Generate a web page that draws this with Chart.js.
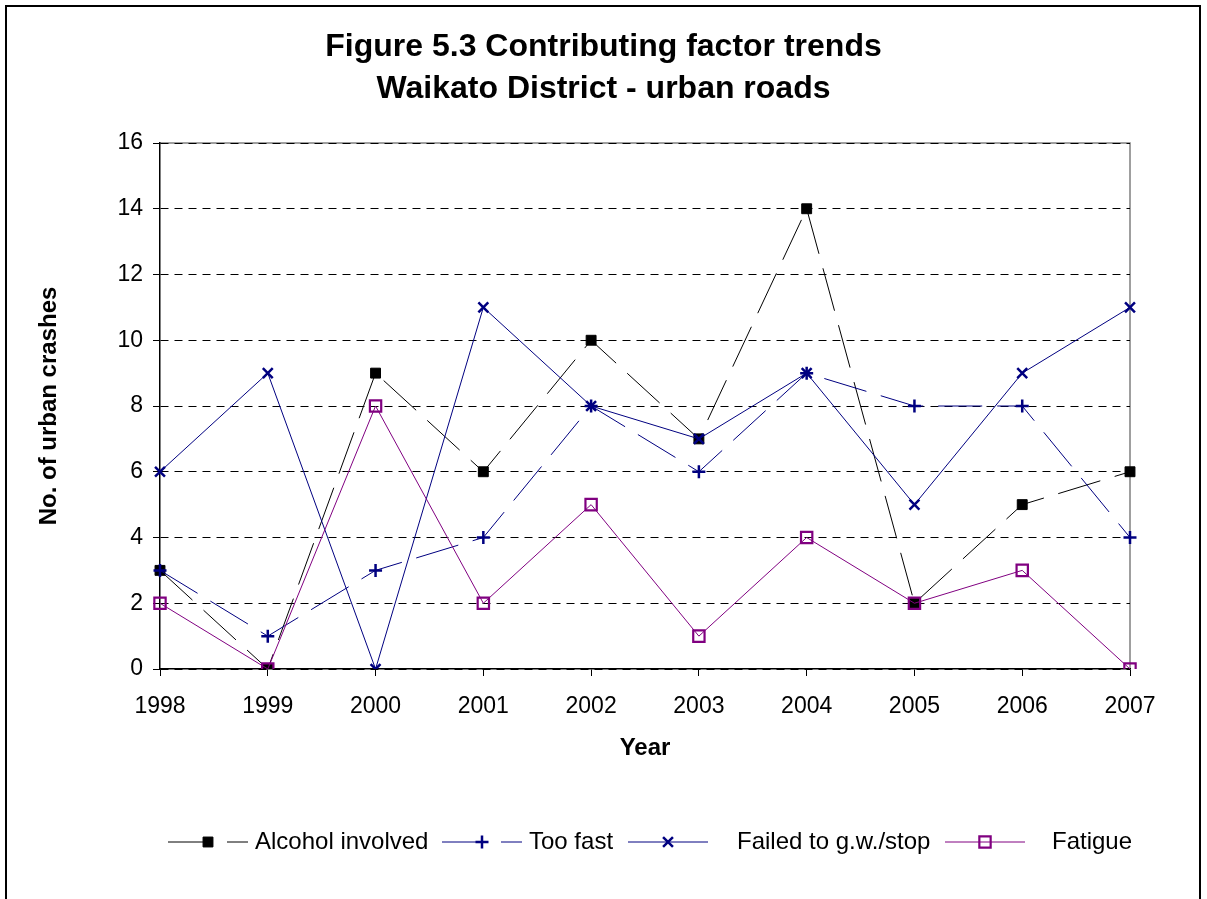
<!DOCTYPE html>
<html>
<head>
<meta charset="utf-8">
<title>Figure 5.3 Contributing factor trends</title>
<script src="https://cdn.jsdelivr.net/npm/chart.js@4.4.1/dist/chart.umd.min.js"></script>
<style>
  html, body { margin: 0; padding: 0; background: #fff; }
  #wrap { width: 1207px; height: 899px; }
</style>
</head>
<body>
<div id="wrap"><canvas id="chart" width="1207" height="899"></canvas></div>
<script>
// Data
const years = ['1998', '1999', '2000', '2001', '2002', '2003', '2004', '2005', '2006', '2007'];
const alcohol = [3, 0, 9, 6, 10, 7, 14, 2, 5, 6];
const tooFast = [3, 1, 3, 4, 8, 6, 9, 8, 8, 4];
const failedToGiveWay = [6, 9, 0, 11, 8, 7, 9, 5, 9, 11];
const fatigue = [2, 0, 8, 2, 5, 1, 4, 2, 3, 0];
const seriesNames = ['Alcohol involved', 'Too fast', 'Failed to g.w./stop', 'Fatigue'];
const titleLines = ['Figure 5.3 Contributing factor trends', 'Waikato District - urban roads'];

const NAVY = '#000080';
const PURPLE = '#800080';
const FONT = "'Liberation Sans', Arial, Helvetica, sans-serif";

Chart.defaults.font.family = FONT;
Chart.defaults.color = '#000';

// Legend entry placement (sample start x, text start x)
const LEGEND_Y = 842;
const LEGEND_SAMPLE = [168, 442, 628, 945];
const LEGEND_TEXT = [255, 529, 737, 1052];

/**
 * Page background, outer frame and grey plot-area edge
 */
const framePlugin = {
  id: 'frame',
  beforeDraw(chart) {
    const { ctx, chartArea: a } = chart;
    ctx.save();
    ctx.fillStyle = '#fff';
    ctx.fillRect(0, 0, chart.width, chart.height);
    ctx.strokeStyle = '#000';
    ctx.lineWidth = 2;
    ctx.strokeRect(6, 6, 1194, 900);
    ctx.strokeStyle = '#808080';
    ctx.lineWidth = 1.5;
    ctx.beginPath();
    ctx.moveTo(a.left, a.top);
    ctx.lineTo(a.right, a.top);
    ctx.lineTo(a.right, a.bottom);
    ctx.stroke();
    ctx.restore();
  }
};

/**
 * Excel-style legend: line sample with marker, then the name
 */
const legendPlugin = {
  id: 'excelLegend',
  afterDraw(chart) {
    const { ctx } = chart;
    chart.data.datasets.forEach((ds, i) => {
      const x0 = LEGEND_SAMPLE[i];
      ctx.save();
      ctx.strokeStyle = ds.borderColor;
      ctx.lineWidth = ds.borderWidth;
      ctx.setLineDash(ds.borderDash || []);
      ctx.beginPath();
      ctx.moveTo(x0, LEGEND_Y);
      ctx.lineTo(x0 + 80, LEGEND_Y);
      ctx.stroke();
      ctx.setLineDash([]);
      ctx.fillStyle = ds.pointBackgroundColor;
      ctx.strokeStyle = ds.pointBorderColor;
      ctx.lineWidth = ds.pointBorderWidth;
      Chart.helpers.drawPoint(ctx, {
        pointStyle: ds.pointStyle,
        radius: ds.pointRadius,
        rotation: 0,
        borderWidth: ds.pointBorderWidth
      }, x0 + 40, LEGEND_Y);
      ctx.fillStyle = '#000';
      ctx.font = '24px ' + FONT;
      ctx.textBaseline = 'middle';
      ctx.textAlign = 'left';
      ctx.fillText(ds.label, LEGEND_TEXT[i], LEGEND_Y);
      ctx.restore();
    });
  }
};

new Chart(document.getElementById('chart'), {
  type: 'line',
  data: {
    labels: years,
    datasets: [
      {
        label: seriesNames[0],
        data: alcohol,
        borderColor: '#000',
        borderWidth: 1,
        borderDash: [44, 15],
        pointStyle: 'rect',
        pointRadius: 7,
        pointBackgroundColor: '#000',
        pointBorderColor: '#000',
        pointBorderWidth: 1,
        order: 3
      },
      {
        label: seriesNames[1],
        data: tooFast,
        borderColor: NAVY,
        borderWidth: 1,
        borderDash: [44, 15],
        pointStyle: 'cross',
        pointRadius: 6.5,
        pointBackgroundColor: NAVY,
        pointBorderColor: NAVY,
        pointBorderWidth: 2.5,
        order: 2
      },
      {
        label: seriesNames[2],
        data: failedToGiveWay,
        borderColor: NAVY,
        borderWidth: 1,
        pointStyle: 'crossRot',
        pointRadius: 7,
        pointBackgroundColor: NAVY,
        pointBorderColor: NAVY,
        pointBorderWidth: 2.5,
        order: 1
      },
      {
        label: seriesNames[3],
        data: fatigue,
        borderColor: PURPLE,
        borderWidth: 1,
        pointStyle: 'rect',
        pointRadius: 8,
        pointBackgroundColor: 'rgba(0,0,0,0)',
        pointBorderColor: PURPLE,
        pointBorderWidth: 2.2,
        order: 0
      }
    ]
  },
  options: {
    responsive: false,
    animation: false,
    layout: { padding: 0 },
    elements: { line: { tension: 0, fill: false } },
    plugins: {
      legend: { display: false },
      tooltip: { enabled: false },
      title: {
        display: true,
        text: titleLines,
        color: '#000',
        font: { size: 32, weight: 'bold', lineHeight: '42px' },
        padding: { top: 26, bottom: 33 }
      }
    },
    scales: {
      x: {
        type: 'category',
        offset: false,
        grid: {
          drawOnChartArea: false,
          drawTicks: true,
          tickLength: 7,
          tickColor: '#000',
          offset: false
        },
        border: { display: true, color: '#000', width: 1.5 },
        ticks: { font: { size: 23 }, color: '#000', padding: 17, maxRotation: 0, autoSkip: false },
        title: {
          display: true,
          text: 'Year',
          color: '#000',
          font: { size: 24, weight: 'bold' },
          padding: { top: 0, bottom: 136 }
        },
        afterFit(scale) { scale.height = 230; }
      },
      y: {
        min: 0,
        max: 16,
        grid: {
          color: '#000',
          lineWidth: 1,
          tickLength: 7,
          tickColor: '#000',
          tickBorderDash: []
        },
        border: { display: true, color: '#000', width: 1.5, dash: [8, 6] },
        ticks: { stepSize: 2, font: { size: 23 }, color: '#000', padding: 10 },
        title: {
          display: true,
          text: 'No. of urban crashes',
          color: '#000',
          font: { size: 24, weight: 'bold' },
          padding: { top: 35, bottom: 0 }
        },
        afterFit(scale) { scale.width = 160; }
      },
      // empty right-hand band so the plot ends where the reference's does
      yRight: {
        type: 'linear',
        position: 'right',
        display: true,
        grid: { display: false },
        border: { display: false },
        ticks: { display: false },
        afterFit(scale) { scale.width = 77; }
      }
    }
  },
  plugins: [framePlugin, legendPlugin]
});
</script>
</body>
</html>
